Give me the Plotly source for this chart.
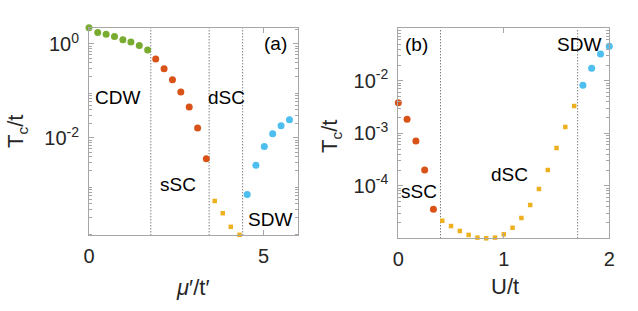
import plotly.graph_objects as go

# ---------- Panel (a): Tc/t vs mu'/t' ----------
a_cdw_x = [0.0, 0.25, 0.49, 0.73, 0.97, 1.20, 1.44, 1.68]
a_cdw_y = [2.21, 1.74, 1.60, 1.43, 1.23, 1.10, 0.93, 0.74]
a_ssc_x = [1.91, 2.15, 2.39, 2.63, 2.87, 3.11, 3.36]
a_ssc_y = [0.48, 0.295, 0.174, 0.0955, 0.0457, 0.0162, 0.00363]
a_dsc_x = [3.60, 3.83, 4.06, 4.31]
a_dsc_y = [4.57e-4, 2.51e-4, 1.29e-4, 8.7e-5]
a_sdw_x = [4.53, 4.78, 5.02, 5.26, 5.50, 5.74]
a_sdw_y = [6.3e-4, 2.63e-3, 6.6e-3, 0.0123, 0.0182, 0.0245]
a_bounds = [1.77, 3.44, 4.40]
a_xticks = [0, 5]
a_yticks = [1e-2, 1e0]
a_yticktext = ["10<sup>-2</sup>", "10<sup>0</sup>"]

# ---------- Panel (b): Tc/t vs U/t ----------
b_ssc_x = [0.0, 0.083, 0.167, 0.25, 0.333]
b_ssc_y = [3.83e-3, 1.85e-3, 7.13e-4, 2.0e-4, 3.56e-5]
b_dsc_x = [0.417, 0.50, 0.583, 0.667, 0.75, 0.833, 0.917, 1.0, 1.083,
           1.167, 1.25, 1.333, 1.417, 1.50, 1.583, 1.667]
b_dsc_y = [2.16e-5, 1.71e-5, 1.38e-5, 1.16e-5, 1.03e-5, 1.0e-5, 1.03e-5,
           1.19e-5, 1.59e-5, 2.44e-5, 4.31e-5, 8.69e-5, 2.0e-4, 5.25e-4,
           1.32e-3, 3.31e-3]
b_sdw_x = [1.75, 1.833, 1.917, 2.0]
b_sdw_y = [8.2e-3, 0.0173, 0.0324, 0.0454]
b_bounds = [0.40, 1.70]
b_xticks = [0, 1, 2]
b_yticks = [1e-4, 1e-3, 1e-2]
b_yticktext = ["10<sup>-4</sup>", "10<sup>-3</sup>", "10<sup>-2</sup>"]

GREEN = "#77AC30"
ORANGE = "#D95319"
YELLOW = "#EDB120"
BLUE = "#4DBEEE"
FONT = "Liberation Sans, Arial, sans-serif"
TXT = "#262626"
AX = "#a6a6a6"

fig = go.Figure()

def add(x, y, color, sym, size, xa, ya):
    fig.add_trace(go.Scatter(x=x, y=y, mode="markers", xaxis=xa, yaxis=ya,
                             marker=dict(color=color, symbol=sym, size=size,
                                         line=dict(width=0)),
                             showlegend=False, cliponaxis=False))

add(a_cdw_x, a_cdw_y, GREEN, "circle", 7, "x", "y")
add(a_ssc_x, a_ssc_y, ORANGE, "circle", 7, "x", "y")
add(a_dsc_x, a_dsc_y, YELLOW, "square", 4.5, "x", "y")
add(a_sdw_x, a_sdw_y, BLUE, "circle", 7, "x", "y")
add(b_ssc_x, b_ssc_y, ORANGE, "circle", 7, "x2", "y2")
add(b_dsc_x, b_dsc_y, YELLOW, "square", 4.5, "x2", "y2")
add(b_sdw_x, b_sdw_y, BLUE, "circle", 7, "x2", "y2")

shapes = []
for b in a_bounds:
    shapes.append(dict(type="line", xref="x", yref="y domain", x0=b, x1=b,
                       y0=0, y1=1, line=dict(color="#444444", width=1, dash="1px,2px"),
                       layer="below"))
for b in b_bounds:
    shapes.append(dict(type="line", xref="x2", yref="y2 domain", x0=b, x1=b,
                       y0=0, y1=1, line=dict(color="#444444", width=1, dash="1px,2px"),
                       layer="below"))

def minor_vals(lo, hi):
    vals = []
    for e in range(lo, hi + 1):
        for k in range(2, 10):
            vals.append(k * 10.0 ** e)
    return vals

common_axis = dict(showline=True, mirror="allticks", linecolor=AX, linewidth=1,
                   ticks="inside", ticklen=5, tickcolor=AX, showgrid=False,
                   zeroline=False, tickfont=dict(family=FONT, size=20, color=TXT),
                   automargin=False)

fig.update_layout(
    width=638, height=311,
    margin=dict(l=0, r=0, t=0, b=0),
    paper_bgcolor="white", plot_bgcolor="white",
    shapes=shapes,
    xaxis=dict(domain=[89 / 638, 298 / 638], range=[0, 5.985],
               tickvals=a_xticks, anchor="y", ticklabelstandoff=3, **common_axis),
    yaxis=dict(domain=[(311 - 235.3) / 311, (311 - 27.7) / 311], type="log",
               range=[-4.07, 0.345], tickvals=a_yticks, ticktext=a_yticktext,
               anchor="x", ticklabelstandoff=5,
               minor=dict(ticks="inside", ticklen=3, tickcolor=AX,
                          tickvals=minor_vals(-5, 0)),
               **common_axis),
    xaxis2=dict(domain=[398.3 / 638, 609.3 / 638], range=[0, 2],
                tickvals=b_xticks, anchor="y2", ticklabelstandoff=3, **common_axis),
    yaxis2=dict(domain=[(311 - 238.3) / 311, (311 - 28.3) / 311], type="log",
                range=[-5, -1], tickvals=b_yticks, ticktext=b_yticktext,
                anchor="x2", ticklabelstandoff=5,
                minor=dict(ticks="inside", ticklen=3, tickcolor=AX,
                           tickvals=minor_vals(-5, -2)),
                **common_axis),
)

def label(text, x, y, xref, yref, size=19):
    fig.add_annotation(text=text, x=x, y=y, xref=xref, yref=yref, showarrow=False,
                       xanchor="center", yanchor="middle",
                       font=dict(family=FONT, size=size, color="black"))

# panel (a) labels (y given as log10 on log axis)
label("CDW", 0.82, -1.14, "x", "y")
label("dSC", 3.94, -1.14, "x", "y")
label("(a)", 5.33, 0.0, "x", "y")
label("sSC", 2.54, -2.99, "x", "y")
label("SDW", 5.19, -3.74, "x", "y")
# panel (b) labels
label("(b)", 0.17, -1.30, "x2", "y2")
label("SDW", 1.71, -1.30, "x2", "y2")
label("dSC", 1.05, -3.79, "x2", "y2")
label("sSC", 0.196, -4.11, "x2", "y2")

# axis titles
def title(text, px, py, angle=0):
    fig.add_annotation(text=text, x=px / 638, y=1 - py / 311, xref="paper",
                       yref="paper", showarrow=False, textangle=angle,
                       xanchor="center", yanchor="middle",
                       font=dict(family=FONT, size=22, color=TXT))

title("T<sub>c</sub>/t", 17, 132, -90)
title("T<sub>c</sub>/t", 331, 137, -90)
title("<i>μ</i>′/t′", 193, 287)
title("U/t", 505, 286)

fig.write_html("out.html")
